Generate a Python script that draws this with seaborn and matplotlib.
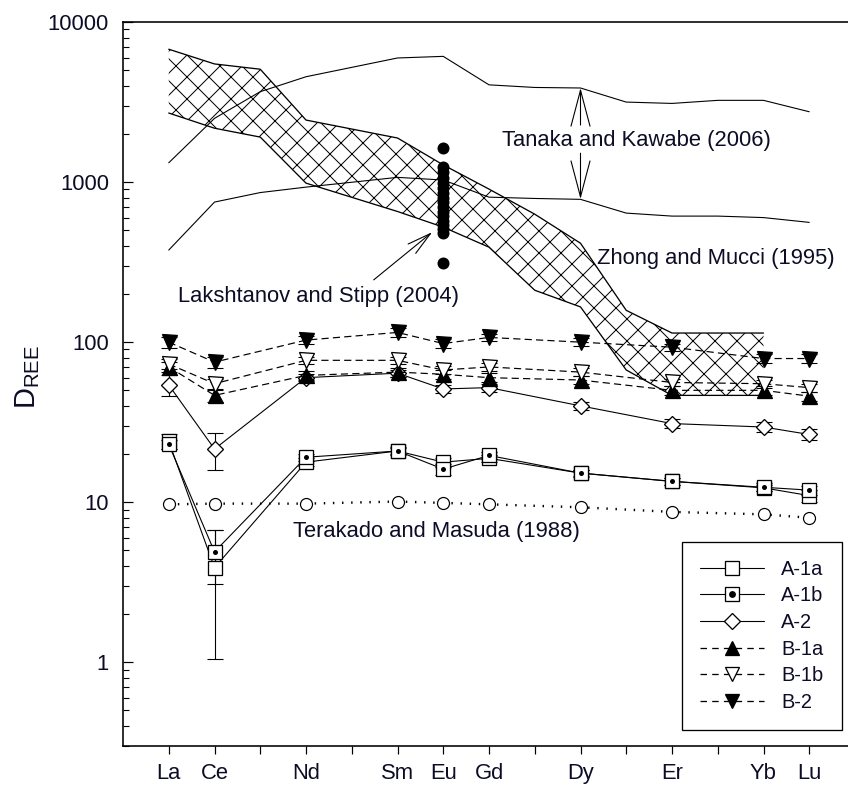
import numpy as np
import pandas as pd
import matplotlib
matplotlib.use('Agg')
import matplotlib.pyplot as plt
import seaborn as sns
from matplotlib.lines import Line2D
from matplotlib.legend_handler import HandlerTuple

# ---------------- data ----------------
elements = ['La', 'Ce', 'Nd', 'Sm', 'Eu', 'Gd', 'Dy', 'Er', 'Yb', 'Lu']
atomic_number = [57, 58, 60, 62, 63, 64, 66, 68, 70, 71]

a1a = [24.0, 3.9, 17.8, 20.9, 17.8, 18.8, 15.2, 13.5, 12.3, 11.0]
a1a_err = [2.5, 2.85, 1.0, 1.2, 1.2, 1.0, 0.8, 0.7, 0.6, 1.0]
a1b = [23.0, 4.9, 19.1, 20.9, 16.1, 19.6, 15.2, 13.5, 12.4, 11.9]
a1b_err = [1.5, 1.8, 1.0, 1.0, 1.3, 1.0, 0.7, 0.7, 0.7, 0.8]
a2 = [54.0, 21.5, 60.0, 64.0, 51.0, 52.0, 40.0, 31.0, 29.5, 26.5]
a2_err = [8.0, 5.5, 3.0, 3.0, 3.0, 3.0, 2.5, 2.0, 2.0, 2.0]
b1a = [70.0, 46.5, 62.0, 65.0, 63.0, 60.0, 58.0, 50.0, 50.0, 46.0]
b1a_err = [5.0, 4.0, 4.0, 4.0, 4.0, 4.0, 3.5, 3.0, 3.0, 3.0]
b1b = [73.0, 55.0, 77.0, 77.0, 67.0, 70.0, 65.0, 56.0, 55.0, 52.0]
b1b_err = [5.0, 4.0, 4.0, 4.0, 4.0, 4.0, 3.5, 3.0, 3.0, 3.0]
b2 = [100.0, 75.0, 103.0, 115.0, 98.0, 107.0, 100.0, 93.0, 79.0, 79.0]
b2_err = [8.0, 6.0, 6.0, 7.0, 6.0, 6.0, 6.0, 5.0, 5.0, 5.0]

terakado = [9.7, 9.8, 9.8, 10.1, 9.9, 9.7, 9.3, 8.7, 8.4, 8.0]

tanaka_x = [57, 58, 59, 60, 62, 63, 64, 65, 66, 67, 68, 69, 70, 71]
tanaka_upper = [1320, 2500, 3670, 4550, 5960, 6100, 4050, 3900, 3870, 3160, 3100, 3240, 3240, 2750]
tanaka_lower = [376, 750, 860, 930, 1070, 1030, 805, 790, 780, 640, 613, 613, 600, 560]

zhong_x = [57, 58, 59, 60, 62, 63, 64, 65, 66, 67, 68, 69, 70]
zhong_upper = [6760, 5470, 5070, 2440, 1885, 1280, 904, 630, 415, 158, 114, 114, 114]
zhong_lower = [2700, 2170, 1910, 985, 655, 523, 392, 211, 166, 67, 46.5, 46.5, 46.5]

lakshtanov_x = 63
lakshtanov = [1630, 1240, 1150, 1060, 990, 920, 860, 800, 750, 700, 650,
              610, 570, 540, 510, 480, 312]

tick_positions = list(range(57, 72))
tick_labels = [elements[atomic_number.index(t)] if t in atomic_number else ''
               for t in tick_positions]

# ---------------- style ----------------
DPI = 132


def pt(px):
    return px * 72.0 / DPI


sns.set_theme(style='ticks')
plt.rcParams['font.family'] = ['Liberation Sans', 'DejaVu Sans']
plt.rcParams['mathtext.default'] = 'regular'
plt.rcParams['hatch.linewidth'] = pt(1.0)
plt.rcParams['hatch.color'] = 'black'

TXT = '#0c0c26'

fig = plt.figure(figsize=(848 / DPI, 791 / DPI), dpi=DPI)
ax = fig.add_axes([123 / 848, 45 / 791, (855 - 123) / 848, (746 - 22) / 791])

# ---------------- Zhong and Mucci band ----------------
ax.fill_between(zhong_x, zhong_lower, zhong_upper, facecolor='white',
                edgecolor='black', hatch='xx', linewidth=0, zorder=1)
for yy in (zhong_upper, zhong_lower):
    sns.lineplot(x=zhong_x, y=yy, color='black', linewidth=pt(1.3),
                 estimator=None, sort=False, ax=ax, zorder=2)

# ---------------- Tanaka and Kawabe lines ----------------
for yy in (tanaka_upper, tanaka_lower):
    sns.lineplot(x=tanaka_x, y=yy, color='black', linewidth=pt(1.1),
                 estimator=None, sort=False, ax=ax, zorder=2)

# ---------------- Terakado ----------------
sns.lineplot(x=atomic_number, y=terakado, color='black', linewidth=pt(2.4),
             linestyle=(0, (0.6, 3.2)), marker='o', markersize=pt(12),
             markerfacecolor='white', markeredgecolor='black',
             markeredgewidth=pt(1.2), estimator=None, sort=False, ax=ax, zorder=3)

# ---------------- Lakshtanov dots ----------------
sns.scatterplot(x=[lakshtanov_x] * len(lakshtanov), y=lakshtanov, color='black',
                s=pt(12) ** 2, edgecolor='black', linewidth=0, ax=ax, zorder=4)

# ---------------- experimental series ----------------
def series(y, err, marker, ms, mfc, ls, lw, dot=False):
    ax.errorbar(atomic_number, y, yerr=err, fmt='none', ecolor='black',
                elinewidth=pt(1.1), capsize=pt(8), capthick=pt(1.1), zorder=5)
    sns.lineplot(x=atomic_number, y=y, color='black', linewidth=pt(lw),
                 linestyle=ls, marker=marker, markersize=pt(ms),
                 markerfacecolor=mfc, markeredgecolor='black',
                 markeredgewidth=pt(1.3), estimator=None, sort=False,
                 ax=ax, zorder=6)
    if dot:
        sns.scatterplot(x=atomic_number, y=y, color='black', s=pt(5) ** 2,
                        linewidth=0, ax=ax, zorder=7)


DASH = (0, (6, 3.5))
series(a1a, a1a_err, 's', 14, 'white', '-', 1.1)
series(a1b, a1b_err, 's', 14, 'white', '-', 1.1, dot=True)
series(a2, a2_err, 'D', 11, 'white', '-', 1.1)
series(b1a, b1a_err, '^', 15, 'black', DASH, 1.2)
series(b1b, b1b_err, 'v', 15, 'white', DASH, 1.2)
series(b2, b2_err, 'v', 15, 'black', DASH, 1.2)

# ---------------- annotations ----------------
FS = pt(22)
ax.text(64.28, 1820, 'Tanaka and Kawabe (2006)', fontsize=FS, color=TXT,
        ha='left', va='center', zorder=8)
ax.text(66.37, 335, 'Zhong and Mucci (1995)', fontsize=FS, color=TXT,
        ha='left', va='center', zorder=8)
ax.text(57.2, 192, 'Lakshtanov and Stipp (2004)', fontsize=FS, color=TXT,
        ha='left', va='center', zorder=8)
ax.text(59.72, 6.6, 'Terakado and Masuda (1988)', fontsize=FS, color=TXT,
        ha='left', va='center', zorder=8)

arrow_big = dict(arrowstyle='->,head_length=3.6,head_width=0.95', color='black',
                 lw=pt(1.1), shrinkA=0, shrinkB=0, mutation_scale=pt(10))
ax.annotate('', xy=(66, 3870), xytext=(66, 2270), arrowprops=arrow_big, zorder=8)
ax.annotate('', xy=(66, 783), xytext=(66, 1515), arrowprops=arrow_big, zorder=8)
arrow_small = dict(arrowstyle='->,head_length=2.4,head_width=0.6', color='black',
                   lw=pt(1.1), shrinkA=0, shrinkB=0, mutation_scale=pt(10))
ax.annotate('', xy=(62.76, 487), xytext=(61.48, 245), arrowprops=arrow_small, zorder=8)

# ---------------- axes ----------------
ax.set_yscale('log')
ax.set_ylim(0.3, 10000)
ax.set_xlim(56, 72)
ax.set_yticks([1, 10, 100, 1000, 10000])
ax.set_yticklabels(['1', '10', '100', '1000', '10000'])
ax.set_xticks(tick_positions)
ax.set_xticklabels(tick_labels)
ax.set_xlabel('')
ax.set_ylabel('')

for s in ax.spines.values():
    s.set_color('black')
    s.set_linewidth(pt(1.6))
    s.set_visible(True)

ax.tick_params(axis='y', which='major', direction='in', length=pt(10),
               width=pt(1.2), pad=pt(14), labelsize=FS, labelcolor=TXT,
               color='black', left=True, right=False)
ax.tick_params(axis='y', which='minor', direction='in', length=pt(6),
               width=pt(1.1), color='black', left=True, right=False)
ax.tick_params(axis='x', which='major', direction='out', length=pt(8),
               width=pt(1.2), pad=pt(9), labelsize=FS, labelcolor=TXT,
               color='black', bottom=True, top=False)

fig.text(42 / 848, 1 - 377 / 791, r'$\mathregular{D_{REE}}$', fontsize=pt(29),
         rotation=90, ha='right', va='center', color=TXT)

# ---------------- legend ----------------
def mk(marker, mfc, ls, lw):
    return Line2D([], [], color='black', linewidth=pt(lw), linestyle=ls,
                  marker=marker, markersize=pt(14 if marker != 'D' else 11),
                  markerfacecolor=mfc, markeredgecolor='black',
                  markeredgewidth=pt(1.3))


dot_h = Line2D([], [], linestyle='none', marker='o', markersize=pt(5),
               color='black')
handles = [mk('s', 'white', '-', 1.1),
           (mk('s', 'white', '-', 1.1), dot_h),
           mk('D', 'white', '-', 1.1),
           mk('^', 'black', (0, (5, 4)), 1.3),
           mk('v', 'white', (0, (5, 4)), 1.3),
           mk('v', 'black', (0, (5, 4)), 1.3)]
labels = ['A-1a', 'A-1b', 'A-2', 'B-1a', 'B-1b', 'B-2']
leg = ax.legend(handles, labels, handler_map={tuple: HandlerTuple(ndivide=1)},
                loc='upper left', bbox_to_anchor=(0.764, 0.282),
                borderaxespad=0, fontsize=pt(20), handlelength=3.2,
                handletextpad=0.85, labelspacing=0.38, borderpad=0.9,
                frameon=True, fancybox=False, framealpha=1,
                edgecolor='black')
leg.get_frame().set_linewidth(pt(1.3))
for t in leg.get_texts():
    t.set_color(TXT)

fig.savefig('out.png', dpi=DPI)
